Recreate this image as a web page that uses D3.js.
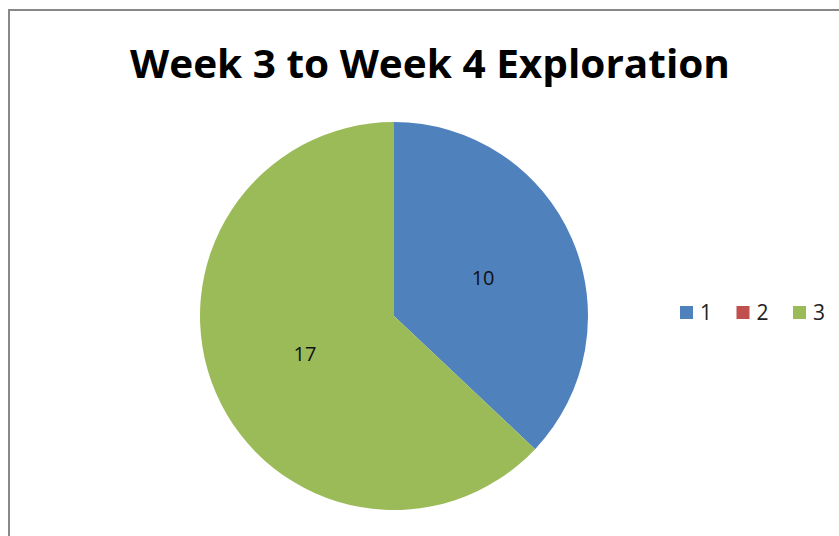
<!DOCTYPE html>
<html>
<head>
<meta charset="utf-8">
<script src="https://cdn.jsdelivr.net/npm/d3@7"></script>
<style>
  body { margin: 0; background: #fff; }
  svg { display: block; }
</style>
</head>
<body>
<div id="chart"></div>
<script>
const categories = ['1', '2', '3'];
const values = [10, 0, 17];
const colors = ['#4F81BD', '#C0504D', '#9BBB59'];
const title = 'Week 3 to Week 4 Exploration';

const w = 839;
const h = 536;

const svg = d3.select('#chart')
  .append('svg')
  .attr('width', w)
  .attr('height', h)

// chart frame (right and bottom edges fall outside the window)
svg.append('rect')
  .attr('x', 9)
  .attr('y', 10)
  .attr('width', w + 20)
  .attr('height', h + 20)
  .attr('fill', '#fff')
  .attr('stroke', '#888')
  .attr('stroke-width', 2)

svg.append('text')
  .attr('x', 430)
  .attr('y', 78)
  .attr('text-anchor', 'middle')
  .attr('font-family', 'Open Sans, sans-serif')
  .attr('font-weight', 'bold')
  .attr('font-size', 40)
  .attr('textLength', 600)
  .attr('lengthAdjust', 'spacingAndGlyphs')
  .attr('fill', '#000')
  .text(title)

const data = categories.map((c, i) => ({ cat: c, value: values[i], color: colors[i] }));

const cx = 394, cy = 316, r = 194;

const pie = d3.pie().sort(null).value(d => d.value);
const arc = d3.arc().innerRadius(0).outerRadius(r);
const labelArc = d3.arc().innerRadius(r * 0.5).outerRadius(r * 0.5);

const g = svg.append('g').attr('transform', 'translate(' + cx + ',' + cy + ')');

const arcs = pie(data);

g.selectAll('path')
  .data(arcs)
  .enter()
  .append('path')
  .attr('d', arc)
  .attr('fill', d => d.data.color)

g.selectAll('text')
  .data(arcs.filter(d => d.data.value > 0))
  .enter()
  .append('text')
  .attr('transform', d => 'translate(' + labelArc.centroid(d) + ')')
  .attr('text-anchor', 'middle')
  .attr('dy', '0.35em')
  .attr('font-family', 'Open Sans, sans-serif')
  .attr('font-size', 20)
  .attr('fill', '#111')
  .text(d => d.data.value)

// legend
const legendX = d3.scalePoint().domain(categories).range([680, 793]);

const legend = svg.selectAll('.legend')
  .data(data)
  .enter()
  .append('g')
  .attr('class', 'legend')
  .attr('transform', d => 'translate(' + legendX(d.cat) + ',306)')

legend.append('rect')
  .attr('width', 13)
  .attr('height', 13)
  .attr('fill', d => d.color)

legend.append('text')
  .attr('x', 20)
  .attr('y', 7)
  .attr('dy', '0.35em')
  .attr('font-family', 'Open Sans, sans-serif')
  .attr('font-size', 21)
  .attr('fill', '#222')
  .text(d => d.cat)
</script>
</body>
</html>
